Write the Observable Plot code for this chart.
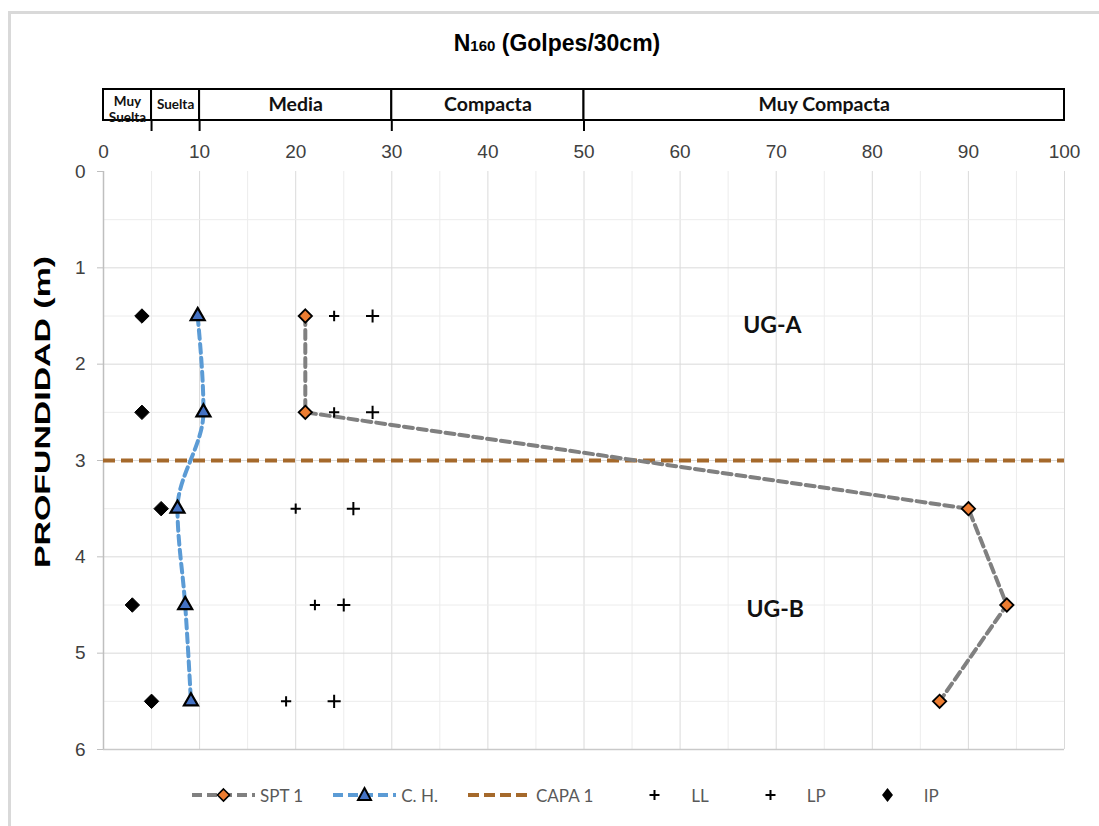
<!DOCTYPE html>
<html>
<head>
<meta charset="utf-8">
<script src="https://cdn.jsdelivr.net/npm/d3@7"></script>
<script src="https://cdn.jsdelivr.net/npm/@observablehq/plot@0.6"></script>
<style>
  html, body { margin: 0; padding: 0; background: #fff; }
  #wrap { position: relative; width: 1099px; height: 826px; overflow: hidden; background: #fff; }
  #frame { position: absolute; left: 8px; top: 11px; width: 1200px; height: 1000px; border-left: 3px solid #d9d9d9; border-top: 3px solid #d9d9d9; }
  #title { position: absolute; top: 30px; left: 0; width: 1114px; text-align: center; font-family: "Liberation Sans Narrow", "Liberation Sans", Arial, sans-serif; font-weight: bold; font-size: 23px; color: #000; }
  #title .sub { font-size: 15px; }
  #main, #header { position: absolute; left: 0; }
  #main { top: 0; }
  #header { top: 80px; }
  #ytitle { position: absolute; left: 0; top: 0; }
  #legend { position: absolute; left: 192px; top: 784px; display: flex; align-items: center; font-family: Lato, "Open Sans", sans-serif; font-size: 17px; color: #595959; }
  #legend .item { display: flex; align-items: center; margin-right: 30px; }
  #legend .item span { margin-left: 5px; }
</style>
</head>
<body>
<div id="wrap">
  <div id="frame"></div>
  <div id="title">N<span class="sub">160</span> (Golpes/30cm)</div>
  <div id="main"></div>
  <div id="header"></div>
  <svg id="ytitle" width="90" height="826"></svg>
  <div id="legend"></div>
</div>
<script>
// ---- data ----
const depths = [1.5, 2.5, 3.5, 4.5, 5.5];
const spt = [21, 21, 90, 94, 87];
const ch = [9.8, 10.4, 7.7, 8.5, 9.1];
const ll = [28, 28, 26, 25, 24];
const lp = [24, 24, 20, 22, 19];
const ip = [4, 4, 6, 3, 5];
const capaDepth = [3];
const classNames = ["Muy\nSuelta", "Suelta", "Media", "Compacta", "Muy Compacta"];
const classLo = [0, 5, 10, 30, 50];
const classHi = [5, 10, 30, 50, 100];
const classBounds = [5, 10, 30, 50];
const xTicks = [0, 10, 20, 30, 40, 50, 60, 70, 80, 90, 100];
const yTicks = [0, 1, 2, 3, 4, 5, 6];
const xMinor = [5, 15, 25, 35, 45, 55, 65, 75, 85, 95];
const xMajor = [10, 20, 30, 40, 50, 60, 70, 80, 90, 100];
const yMinor = [0.5, 1.5, 2.5, 3.5, 4.5, 5.5];
const yMajor = [1, 2, 3, 4, 5];
const ugNames = ["UG-A", "UG-B"];
const ugX = [69.6, 69.9];
const ugY = [1.6, 4.55];
const yTitle = "PROFUNDIDAD (m)";

// ---- tables ----
const sptT = depths.map((d, i) => ({depth: d, v: spt[i]}));
const chT = depths.map((d, i) => ({depth: d, v: ch[i]}));
const llT = depths.map((d, i) => ({depth: d, v: ll[i]}));
const lpT = depths.map((d, i) => ({depth: d, v: lp[i]}));
const ipT = depths.map((d, i) => ({depth: d, v: ip[i]}));
const ugT = ugNames.map((n, i) => ({name: n, x: ugX[i], y: ugY[i]}));
const classT = classNames.map((n, i) => ({name: n, lo: classLo[i], hi: classHi[i]}));

const C_SPT = "#808080", C_SPT_M = "#ED7D31", C_CH = "#5B9BD5", C_CH_M = "#4472C4", C_CAPA = "#A5692B";

const main = Plot.plot({
  width: 1099, height: 826,
  marginTop: 171, marginBottom: 77, marginLeft: 103, marginRight: 35,
  x: {domain: [0, 100]},
  y: {domain: [0, 6], reverse: true},
  style: {fontFamily: "Liberation Sans, Arial, sans-serif", background: "transparent"},
  marks: [
    Plot.ruleX(xMinor, {stroke: "#ececec", strokeWidth: 1}),
    Plot.ruleX(xMajor, {stroke: "#dadada", strokeWidth: 1}),
    Plot.ruleY(yMinor, {stroke: "#ececec", strokeWidth: 1}),
    Plot.ruleY(yMajor, {stroke: "#dadada", strokeWidth: 1}),
    Plot.ruleY([6], {stroke: "#c9c9c9", strokeWidth: 1.5}),
    Plot.ruleX([0], {stroke: "#bfbfbf", strokeWidth: 1.5}),
    Plot.axisY({ticks: yTicks, tickSize: 6, tickPadding: 12, fontSize: 19, label: null, stroke: "#bfbfbf", color: "#404040", tickFormat: d => d}),
    Plot.axisX({anchor: "top", ticks: xTicks, tickSize: 0, tickPadding: 14, fontSize: 19, label: null, color: "#404040", tickFormat: d => d}),
    Plot.ruleY(capaDepth, {stroke: C_CAPA, strokeWidth: 4, strokeDasharray: "12,6"}),
    Plot.line(sptT, {x: "v", y: "depth", stroke: C_SPT, strokeWidth: 4, strokeDasharray: "9,5"}),
    Plot.line(chT, {x: "v", y: "depth", stroke: C_CH, strokeWidth: 4, strokeDasharray: "9,5", curve: "monotone-y"}),
    Plot.dot(ipT, {x: "v", y: "depth", symbol: "diamond2", fill: "black", stroke: "black", strokeWidth: 1, r: 6.5}),
    Plot.dot(llT, {x: "v", y: "depth", symbol: "plus", stroke: "black", strokeWidth: 2, r: 4.3}),
    Plot.dot(lpT, {x: "v", y: "depth", symbol: "plus", stroke: "black", strokeWidth: 2, r: 3.4}),
    Plot.dot(chT, {x: "v", y: "depth", symbol: "triangle", fill: C_CH_M, stroke: "black", strokeWidth: 2.2, r: 5.2}),
    Plot.dot(sptT, {x: "v", y: "depth", symbol: "diamond2", fill: C_SPT_M, stroke: "black", strokeWidth: 1.8, r: 6}),
    Plot.text(ugT, {x: "x", y: "y", text: "name", fontSize: 23, fontWeight: "bold", fontFamily: "Lato, sans-serif", fill: "#111"})
  ]
});
document.getElementById("main").appendChild(main);

const header = Plot.plot({
  width: 1099, height: 60,
  marginTop: 9, marginBottom: 20, marginLeft: 103, marginRight: 35,
  x: {domain: [0, 100]},
  style: {fontFamily: "Lato, sans-serif", background: "transparent"},
  marks: [
    Plot.rect(classT, {x1: "lo", x2: "hi", fill: "white", stroke: "black", strokeWidth: 2}),
    Plot.text(classT, {filter: d => d.hi - d.lo > 5, x: d => (d.lo + d.hi) / 2, text: "name", frameAnchor: "middle",
      fontWeight: "bold", fontSize: 19.5, fill: "#111"}),
    Plot.text(classT, {filter: d => d.hi - d.lo <= 5 && !d.name.includes("\n"), x: d => (d.lo + d.hi) / 2, text: "name", frameAnchor: "middle",
      fontWeight: "bold", fontSize: 13.5, fill: "#111"}),
    Plot.text(classT, {filter: d => d.name.includes("\n"), x: d => (d.lo + d.hi) / 2, text: "name", frameAnchor: "middle",
      fontWeight: "bold", fontSize: 13.5, lineHeight: 1.15, dy: 4, fill: "#111"}),
    Plot.axisX({anchor: "bottom", ticks: classBounds, tickSize: 11, tickFormat: () => "", strokeWidth: 2, stroke: "black", label: null})
  ]
});
document.getElementById("header").appendChild(header);

// y-axis title
d3.select("#ytitle").append("text")
  .attr("transform", "translate(50,412) rotate(-90)")
  .attr("text-anchor", "middle")
  .attr("font-family", "Liberation Sans, Arial, sans-serif")
  .attr("font-weight", "bold")
  .attr("font-size", 22)
  .attr("textLength", 312)
  .attr("lengthAdjust", "spacingAndGlyphs")
  .text(yTitle);

// legend
const legendItems = [
  {name: "SPT 1", line: C_SPT, dash: "10,5", sym: "diamond", fill: C_SPT_M},
  {name: "C. H.", line: C_CH, dash: "10,5", sym: "triangle", fill: C_CH_M},
  {name: "CAPA 1", line: C_CAPA, dash: "11,5", sym: null},
  {name: "LL", line: null, sym: "plus"},
  {name: "LP", line: null, sym: "plus"},
  {name: "IP", line: null, sym: "diamondBlack"}
];
const lg = d3.select("#legend");
legendItems.forEach(it => {
  const item = lg.append("div").attr("class", "item");
  const s = item.append("svg").attr("width", 63).attr("height", 22);
  if (it.line) s.append("line").attr("x1", 0).attr("x2", 63).attr("y1", 11).attr("y2", 11)
    .attr("stroke", it.line).attr("stroke-width", 4).attr("stroke-dasharray", it.dash);
  if (it.sym === "diamond") s.append("path").attr("d", "M31.5,5L37.5,11L31.5,17L25.5,11Z").attr("fill", it.fill).attr("stroke", "black").attr("stroke-width", 1.6);
  if (it.sym === "triangle") s.append("path").attr("d", "M31.5,4L38,16L25,16Z").attr("fill", it.fill).attr("stroke", "black").attr("stroke-width", 2);
  if (it.sym === "plus") s.append("path").attr("d", "M31.5,6V16M26.5,11H36.5").attr("stroke", "black").attr("stroke-width", 2);
  if (it.sym === "diamondBlack") s.append("path").attr("d", "M31.5,4L37,11L31.5,18L26,11Z").attr("fill", "black");
  item.append("span").text(it.name);
});
</script>
</body>
</html>
